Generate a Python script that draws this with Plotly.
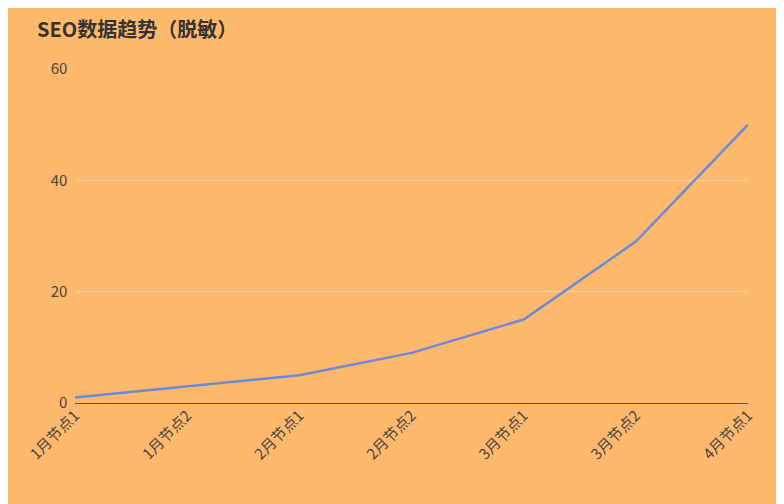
import plotly.graph_objects as go

categories = ["1月节点1", "1月节点2", "2月节点1", "2月节点2", "3月节点1", "3月节点2", "4月节点1"]
values = [1, 3, 5, 9, 15, 29, 50]

fig = go.Figure(go.Scatter(x=categories, y=values, mode="lines",
                           line=dict(color="#6d88d8", width=2.5)))
fig.update_layout(
    width=784, height=504,
    paper_bgcolor="#ffb96c", plot_bgcolor="#ffb96c",
    margin=dict(l=67, r=44, t=61, b=109),
    title=dict(text="<b>SEO数据趋势（脱敏）</b>", x=0.037, y=0.97, xanchor="left", yanchor="top",
               font=dict(size=20, color="#333333", family="Noto Sans CJK SC")),
    font=dict(family="Noto Sans CJK SC", size=15, color="#444444"),
    showlegend=False,
)
fig.update_xaxes(showgrid=False, tickangle=-45, range=[0, 6], showline=False, zeroline=False,
                 ticks="", tickfont=dict(size=15, color="#444444"))
fig.update_yaxes(range=[0, 60], dtick=20, gridcolor="#e8d2b4", zeroline=True, zerolinecolor="#555555",
                 zerolinewidth=1, ticks="", tickfont=dict(size=15, color="#444444"), ticksuffix="  ")
fig.write_html("out.html")
